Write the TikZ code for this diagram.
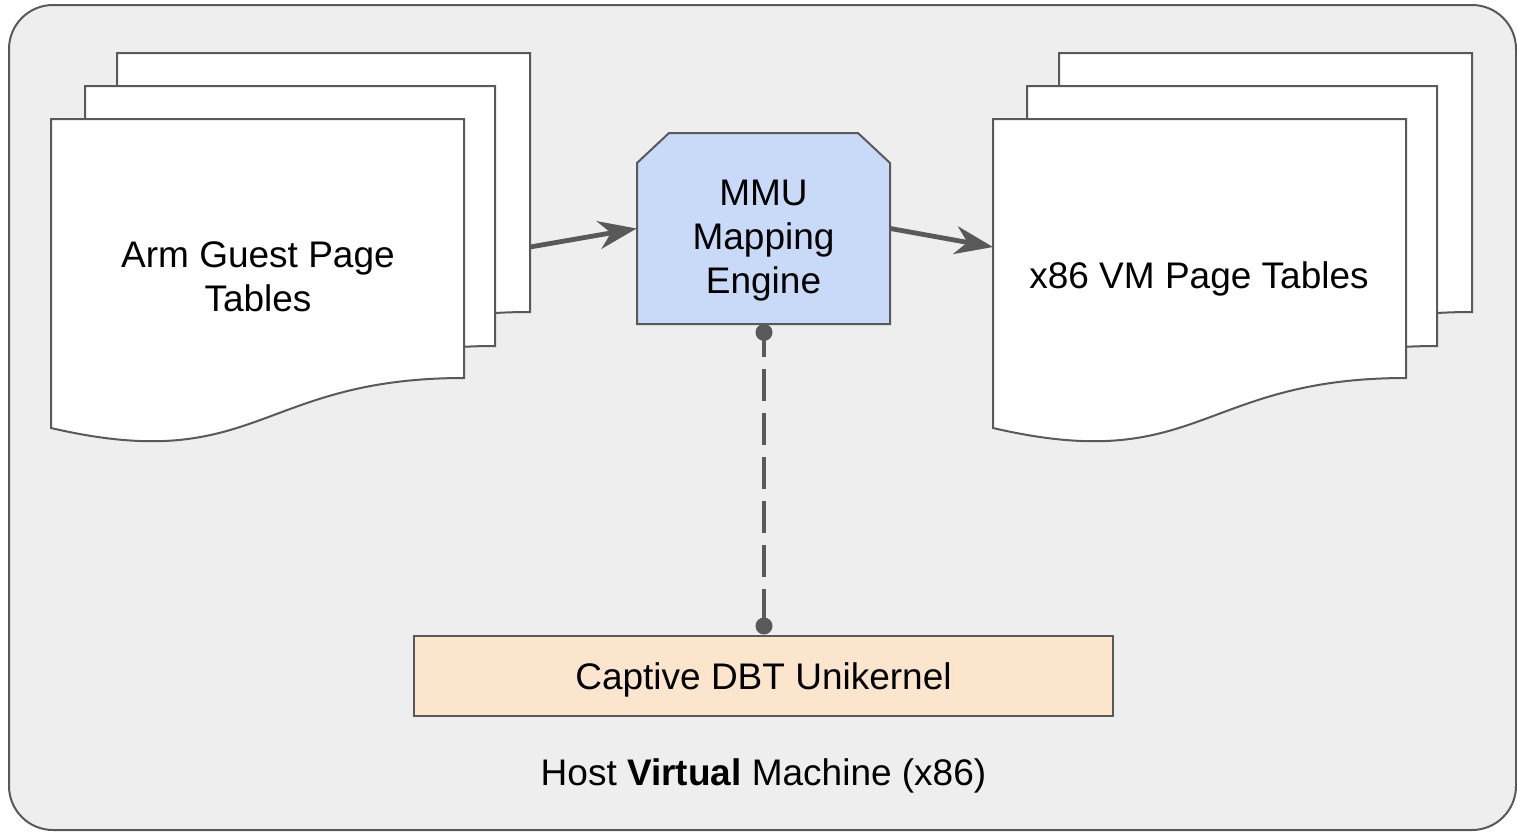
\documentclass[tikz,border=0pt]{standalone}
\usepackage{fontspec}
\setmainfont{Liberation Sans}
\usetikzlibrary{arrows.meta,calc}
\definecolor{lineg}{HTML}{595959}
\definecolor{bgg}{HTML}{EEEEEE}
\definecolor{mmublue}{HTML}{C9DAF8}
\definecolor{peach}{HTML}{FCE5CD}
\tikzset{
  txt/.style={font=\fontsize{18.5}{22}\selectfont, align=center, text=black, inner sep=0pt},
  page/.style={fill=white, draw=lineg, line width=1pt, line join=miter},
  arr/.style={draw=lineg, line width=2.4pt, -{Stealth[length=19pt,width=14pt,inset=6pt]}, shorten >=0pt},
  dashline/.style={draw=lineg, line width=2pt, dash pattern=on 16pt off 6pt, dash phase=3.5pt},
  dotend/.style={circle, fill=lineg, minimum size=8.5pt, inner sep=0pt},
}
\begin{document}
\begin{tikzpicture}[x=0.5pt,y=-0.5pt]
\useasboundingbox (0,0) rectangle (1517,831);
% outer frame
\draw[fill=bgg, draw=lineg, line width=1pt, rounded corners=22pt] (9,5) rectangle (1516,830);

% left document stack
\path[page] (117,53) -- (530,53) -- (530,312) .. controls (323.5,312) and (323.5,410) .. (117,362) -- cycle;
\path[page] (85,86) -- (495,86) -- (495,346) .. controls (290,346) and (290,444) .. (85,396) -- cycle;
\path[page] (51,119) -- (464,119) -- (464,378) .. controls (257.5,378) and (257.5,476) .. (51,428) -- cycle;
\node[txt] (armtxt) at (258,277) {Arm Guest Page\\Tables};
\coordinate (ldoc) at (530,247);

% right document stack
\path[page] (1059,53) -- (1472,53) -- (1472,312) .. controls (1265.5,312) and (1265.5,410) .. (1059,362) -- cycle;
\path[page] (1027,86) -- (1437,86) -- (1437,346) .. controls (1232,346) and (1232,444) .. (1027,396) -- cycle;
\path[page] (993,119) -- (1406,119) -- (1406,378) .. controls (1199.5,378) and (1199.5,476) .. (993,428) -- cycle;
\node[txt] (x86txt) at (1199,279) {x86 VM Page Tables};
\coordinate (rdoc) at (993,247);

% MMU engine
\path[fill=mmublue, draw=lineg, line width=1pt] (637,324) -- (637,163) -- (669,133) -- (858,133) -- (890,163) -- (890,324) -- cycle;
\node[minimum width=126.5pt, minimum height=95.5pt, inner sep=0pt] (mmu) at (763.5,228.5) {};
\node[txt] (mmutxt) at (763.5,241) {MMU\\Mapping\\Engine};

% Captive box
\node[fill=peach, draw=lineg, line width=1pt, minimum width=349.5pt, minimum height=40pt, inner sep=0pt] (cap) at (763.5,676) {};
\node[txt] (captxt) at (763.5,680) {Captive DBT Unikernel};

% host label
\node[txt] (host) at (763.5,776) {Host \textbf{Virtual} Machine (x86)};

% arrows
\draw[arr] (ldoc) -- (mmu.west);
\draw[arr] (mmu.east) -- (rdoc);

% dashed connector
\coordinate (dtop) at ($(mmu.south)+(0.5,8)$);
\coordinate (dbot) at ($(cap.north)+(0.5,-9)$);
\draw[dashline] (dtop) -- (dbot);
\node[dotend] at (dtop) {};
\node[dotend] at (dbot) {};
\end{tikzpicture}
\end{document}
